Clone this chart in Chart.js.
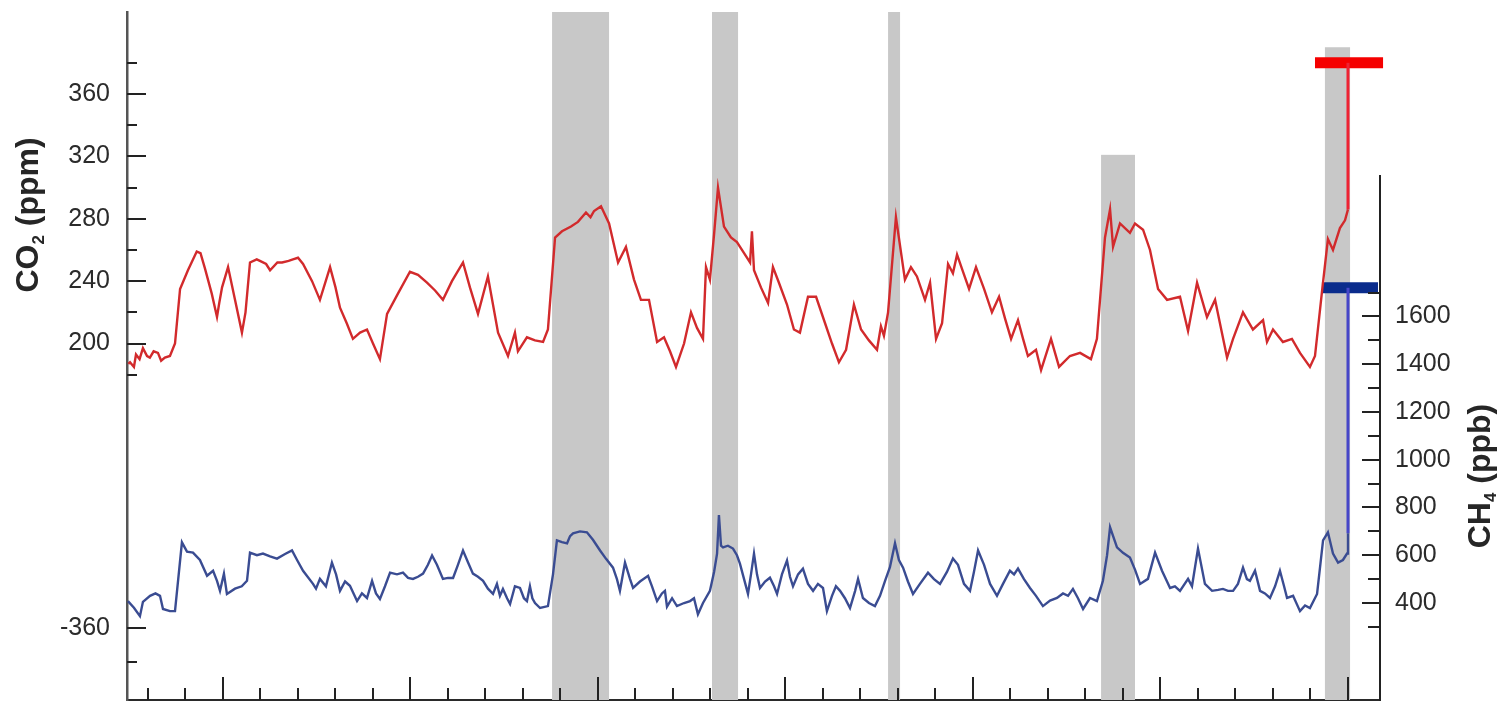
<!DOCTYPE html>
<html>
<head>
<meta charset="utf-8">
<script src="https://cdn.jsdelivr.net/npm/chart.js@4/dist/chart.umd.min.js"></script>
<style>
  html, body { margin: 0; padding: 0; background: #ffffff; }
  #c { display: block; }
</style>
</head>
<body>
<canvas id="c" width="1506" height="703"></canvas>
<script>
// ---------------- DATA (age in kyr before present) ----------------
const co2Age = [650.5,649.6,647.5,646.4,644.5,642.7,640.5,639,637,634.7,633,631,628.3,625.6,622.9,618.7,614,612,609.6,606,603.2,602,600.5,597.3,593.6,589.9,588,585.6,582,580.3,577,574.9,571,568.5,565,562.7,560,557.3,552.5,548.3,542.9,540,537.6,534,530.7,526.9,523.2,520,516.3,512.5,506.7,500.3,496,491.2,486.9,482.7,477.9,472,468.3,464,458.7,453.3,448,444.3,442.7,437.9,433.6,429.3,426.7,422.9,419.2,414.4,410.7,406.4,404,402.1,398.4,394.1,389.3,385.1,380.8,377.1,372.8,368.5,364.8,361.6,358.4,354.1,350.4,347.2,344,342.4,340.3,338.1,336,332.8,329.1,325.9,322.1,318.9,317.9,316.8,313.1,309.3,306.7,303.5,299.2,295.5,292.3,288,283.7,278.9,275.2,271.5,267.7,263.5,259.7,255.5,251.2,249.1,247.5,245.3,241.1,236.3,233.1,229.9,225.6,222.9,219.7,216.5,213.3,210.7,208.5,205.3,202.1,198.4,194.1,189.9,186.1,182.9,179.7,176,173.3,170.7,166.4,163.7,158.4,154.1,148.3,142.9,137.1,133.9,129.6,126.9,125.3,121.6,116.3,113.6,109.3,105.6,101.3,96.5,89.6,85.3,80.5,75.2,70.9,64.5,61.3,56,50.7,45.3,43.2,40,34.7,29.9,25.6,20.3,17.6,13.9,10.7,8,4.3,1.6,0];
const co2Ppm = [187,188,185,193,190,197,192,191,195,194,189,191,192,200,235,247,259,258,248,232,217,226,236,249,228,207,220,252,254,253,251,247,252,252,253,254,255,251,240,228,249,236,223,213,203,207,209,200,190,219,232,246,244,239,234,228,240,252,236,219,243,207,192,207,195,204,202,201,209,268,272,275,278,284,281,285,288,277,252,262,241,228,228,201,204,195,185,200,220,210,203,249,241,270,300,275,268,265,258,252,272,247,236,226,249,239,225,209,207,230,230,213,200,188,196,225,209,202,196,211,205,220,281,241,249,243,228,239,203,213,251,245,257,246,235,249,235,220,230,216,203,215,203,192,196,183,203,185,192,194,190,203,268,286,262,277,271,277,273,260,235,228,230,208,239,217,228,191,203,220,209,215,201,209,201,203,194,185,192,233,267,260,274,279,286];

const ch4Age = [650.7,647.5,644.3,642.7,638.9,636,633.6,632,628.3,625.6,621.9,619.2,616,612.3,608.5,605.3,603.2,601.6,599.5,597.9,593.6,590,587.2,585.6,581.9,578.7,574.9,571.2,566.9,563.2,560.5,557.3,552,550.4,548.3,545.1,541.9,539.7,537.6,534.9,532.3,528.5,525.9,523.2,520.5,518.4,516.3,513.6,510.9,507.2,504,501.3,498.7,496,493.3,490.7,488.5,485.9,482.7,480,477.3,474.7,472,469.3,466.7,464,461.3,458.7,456,453.9,452.3,450.7,448.5,446.9,444.3,441.6,439.5,437.9,436.3,435,433.6,430.9,426.7,424,421.9,419.2,416.5,414.9,413.3,409.6,405.9,402.7,398.9,395.7,392,389.9,388.3,385.6,382.9,381.3,377.6,373.3,371.2,368.5,365.9,364.3,363.2,360.5,357.9,354.1,350.9,348.8,346.7,344,340.3,338.1,336.5,335.5,334.4,333.3,330.7,328,325.9,324.3,322.1,320,318.4,316.8,315.2,313.6,310.9,308.3,306.1,304.5,301.9,299.2,297.6,296,293.3,290.7,288,285.3,282.7,280,277.9,275.2,273.1,270.9,268.3,265.6,262.9,261.3,258.7,255.5,252.3,249.6,246.9,244.3,241.6,239.5,237.3,234.7,232,228.3,224,220.8,217.6,213.9,210.7,208,204.8,201.6,199.5,197.3,194.1,190.9,187.2,184,180.3,178.1,176,172.8,169.6,166.4,162.7,158.9,155.2,152,149.3,146.7,144,141.3,137.6,133.9,130.7,128.5,126.9,123.2,120,116.3,113.6,110.9,106.7,102.9,99.2,94.9,92.3,89.6,85.3,83.2,80,76.3,72.5,69.3,66.7,64,61.3,58.7,56,53.9,52.3,49.6,46.9,44.3,41.6,38.9,36.3,34.1,32.5,29.3,25.6,22.9,20.3,16.5,13.3,10.7,8,5.3,2.7,0.5,0];
const ch4Ppb = [408,380,345,405,430,440,430,375,366,366,654,615,611,580,514,535,493,451,523,438,460,470,493,611,600,607,595,586,605,620,580,535,480,460,501,470,569,520,451,490,472,408,440,421,493,440,417,470,527,520,527,505,501,510,523,560,599,560,501,505,505,560,620,570,523,510,493,460,438,480,430,459,420,396,470,463,420,408,470,420,400,379,387,520,662,655,650,680,692,700,696,665,620,585,548,500,451,569,500,463,490,514,470,408,440,451,385,420,387,400,408,420,353,400,451,530,607,768,640,633,640,628,600,565,500,438,520,607,520,463,490,506,470,438,520,578,510,470,520,544,480,451,480,463,366,430,470,451,420,379,450,501,421,400,387,430,493,550,650,580,548,490,438,480,527,500,480,530,586,560,480,451,530,620,560,480,430,480,535,520,544,500,463,430,387,410,421,440,430,459,420,375,421,408,493,600,717,633,610,590,540,480,501,611,535,463,470,451,501,470,628,480,451,455,459,451,451,480,548,500,493,535,451,440,421,470,535,470,421,430,366,390,379,438,662,696,607,569,580,607,692];

// modern (instrumental) levels and pre-industrial to modern rise
const co2RiseAge = [0, 0];
const co2RisePpm = [286, 380];
const ch4RiseAge = [0, 0];
const ch4RisePpb = [692, 1720];
const co2ModernAge = [17.6, -18.7];
const co2ModernPpm = [380, 380];
const ch4ModernAge = [13.9, -16.0];
const ch4ModernPpb = [1720, 1720];

// interglacial shading (kyr BP; top in CO2 ppm)
const interglacialStart = [424.5, 339.2, 245.3, 131.7, 12.3];
const interglacialEnd   = [394.1, 325.3, 238.9, 113.6, -1.1];
const interglacialTop   = [412.6, 412.6, 412.6, 321, 390];

// ticks
const ageTicks = [640,620,600,580,560,540,520,500,480,460,440,420,400,380,360,340,320,300,280,260,240,220,200,180,160,140,120,100,80,60,40,20,0];
const co2TickValues = [-4.4, 17.7, 180, 200, 220, 240, 260, 280, 300, 320, 340, 360, 380];
const co2TickLabels = ['', '-360', '', '200', '', '240', '', '280', '', '320', '', '360', ''];
const ch4TickValues = [300,400,500,600,700,800,900,1000,1100,1200,1300,1400,1500,1600,1700];
const ch4TickLabels = ['','400','','600','','800','','1000','','1200','','1400','','1600',''];
const ch4AxisTop = 2192;

// ---------------- CHART ----------------
const pts = (xs, ys) => xs.map((x, i) => ({x: x, y: ys[i]}));
const FONT = "'Liberation Sans', Arial, Helvetica, sans-serif";

const overlay = {
  id: 'overlay',
  beforeDatasetsDraw(chart) {
    const {ctx, chartArea, scales} = chart;
    const xs = scales.x, ys = scales.yCO2;
    ctx.save();
    ctx.fillStyle = '#c8c8c8';
    for (let i = 0; i < interglacialStart.length; i++) {
      const x1 = xs.getPixelForValue(interglacialStart[i]);
      const x2 = xs.getPixelForValue(interglacialEnd[i]);
      const yTop = Math.max(chartArea.top, ys.getPixelForValue(interglacialTop[i]));
      ctx.fillRect(x1, yTop, x2 - x1, chartArea.bottom - yTop);
    }
    ctx.restore();
  },
  afterDraw(chart) {
    const {ctx, chartArea, scales} = chart;
    const xs = scales.x, yl = scales.yCO2, yr = scales.yCH4;
    ctx.save();
    ctx.lineCap = 'butt';
    ctx.strokeStyle = '#222';
    ctx.lineWidth = 2;
    // bottom ticks (inward)
    ageTicks.forEach(t => {
      const px = Math.round(xs.getPixelForValue(t));
      const len = (t % 100 === 0) ? 23 : 12;
      ctx.beginPath();
      ctx.moveTo(px, chartArea.bottom);
      ctx.lineTo(px, chartArea.bottom - len);
      ctx.stroke();
    });
    // left ticks (inward)
    co2TickValues.forEach((v, i) => {
      const py = Math.round(yl.getPixelForValue(v));
      const len = co2TickLabels[i] ? 19 : 10;
      ctx.beginPath();
      ctx.moveTo(chartArea.left, py);
      ctx.lineTo(chartArea.left + len, py);
      ctx.stroke();
    });
    // right axis line and ticks
    const yTopR = yr.getPixelForValue(ch4AxisTop);
    ctx.beginPath();
    ctx.moveTo(chartArea.right, yTopR);
    ctx.lineTo(chartArea.right, chartArea.bottom + 1);
    ctx.stroke();
    ch4TickValues.forEach((v, i) => {
      const py = Math.round(yr.getPixelForValue(v));
      const len = ch4TickLabels[i] ? 18 : 12;
      ctx.beginPath();
      ctx.moveTo(chartArea.right, py);
      ctx.lineTo(chartArea.right - len, py);
      ctx.stroke();
    });
    // axis titles (bottom-to-top)
    const drawTitle = (cx, cy, main, sub, rest) => {
      ctx.save();
      ctx.translate(cx, cy);
      ctx.rotate(-Math.PI / 2);
      ctx.fillStyle = '#262626';
      ctx.textBaseline = 'middle';
      const big = "bold 32px " + FONT, small = "bold 17px " + FONT;
      ctx.font = big; const w1 = ctx.measureText(main).width; const w3 = ctx.measureText(rest).width;
      ctx.font = small; const w2 = ctx.measureText(sub).width;
      let x = -(w1 + w2 + w3) / 2;
      ctx.font = big; ctx.textAlign = 'left';
      ctx.fillText(main, x, 0); x += w1;
      ctx.font = small; ctx.fillText(sub, x, 10); x += w2;
      ctx.font = big; ctx.fillText(rest, x, 0);
      ctx.restore();
    };
    drawTitle(29, 215, 'CO', '2', ' (ppm)');
    drawTitle(1481, 476, 'CH', '4', ' (ppb)');
    ctx.restore();
  }
};

new Chart(document.getElementById('c'), {
  type: 'line',
  data: {
    datasets: [
      { label: 'CO2', data: pts(co2Age, co2Ppm), yAxisID: 'yCO2', borderColor: '#d22a2c', borderWidth: 2.4, pointRadius: 0, tension: 0 },
      { label: 'CH4', data: pts(ch4Age, ch4Ppb), yAxisID: 'yCH4', borderColor: '#3a4c92', borderWidth: 2.4, pointRadius: 0, tension: 0 },
      { label: 'CO2 rise', data: pts(co2RiseAge, co2RisePpm), yAxisID: 'yCO2', borderColor: '#ee2233', borderWidth: 3, pointRadius: 0 },
      { label: 'CH4 rise', data: pts(ch4RiseAge, ch4RisePpb), yAxisID: 'yCH4', borderColor: '#4646c8', borderWidth: 3, pointRadius: 0 },
      { label: 'CO2 modern', data: pts(co2ModernAge, co2ModernPpm), yAxisID: 'yCO2', borderColor: '#f50000', borderWidth: 11, borderCapStyle: 'butt', pointRadius: 0, clip: false },
      { label: 'CH4 modern', data: pts(ch4ModernAge, ch4ModernPpb), yAxisID: 'yCH4', borderColor: '#0a2c8c', borderWidth: 11, borderCapStyle: 'butt', pointRadius: 0, clip: false }
    ]
  },
  options: {
    responsive: false,
    animation: false,
    devicePixelRatio: 1,
    layout: { padding: { top: 12, left: 0, right: 0, bottom: 0 } },
    plugins: { legend: { display: false }, tooltip: { enabled: false } },
    scales: {
      x: {
        type: 'linear', reverse: true, min: -17.07, max: 651.2,
        grid: { display: false, drawTicks: false },
        ticks: { display: false },
        border: { display: true, color: '#2a2a2a', width: 2 },
        afterFit: s => { s.height = 3; s.paddingLeft = 0; s.paddingRight = 0; }
      },
      yCO2: {
        type: 'linear', position: 'left', min: -28.6, max: 412.6,
        grid: { display: false, drawTicks: false },
        border: { display: true, color: '#555', width: 2.5 },
        afterBuildTicks: s => { s.ticks = co2TickValues.map(v => ({value: v})); },
        ticks: {
          autoSkip: false, padding: 17, color: '#2b2b2b',
          font: { family: FONT, size: 25, lineHeight: 1 },
          callback: (v, i) => co2TickLabels[i]
        },
        afterFit: s => { s.width = 127; s.paddingTop = 0; s.paddingBottom = 0; }
      },
      yCH4: {
        type: 'linear', position: 'right', min: -6.2, max: 2875,
        grid: { display: false, drawTicks: false },
        border: { display: false },
        afterBuildTicks: s => { s.ticks = ch4TickValues.map(v => ({value: v})); },
        ticks: {
          autoSkip: false, padding: 15, color: '#2b2b2b',
          font: { family: FONT, size: 25, lineHeight: 1 },
          callback: (v, i) => ch4TickLabels[i]
        },
        afterFit: s => { s.width = 126; s.paddingTop = 0; s.paddingBottom = 0; }
      }
    }
  },
  plugins: [overlay]
});
</script>
</body>
</html>
